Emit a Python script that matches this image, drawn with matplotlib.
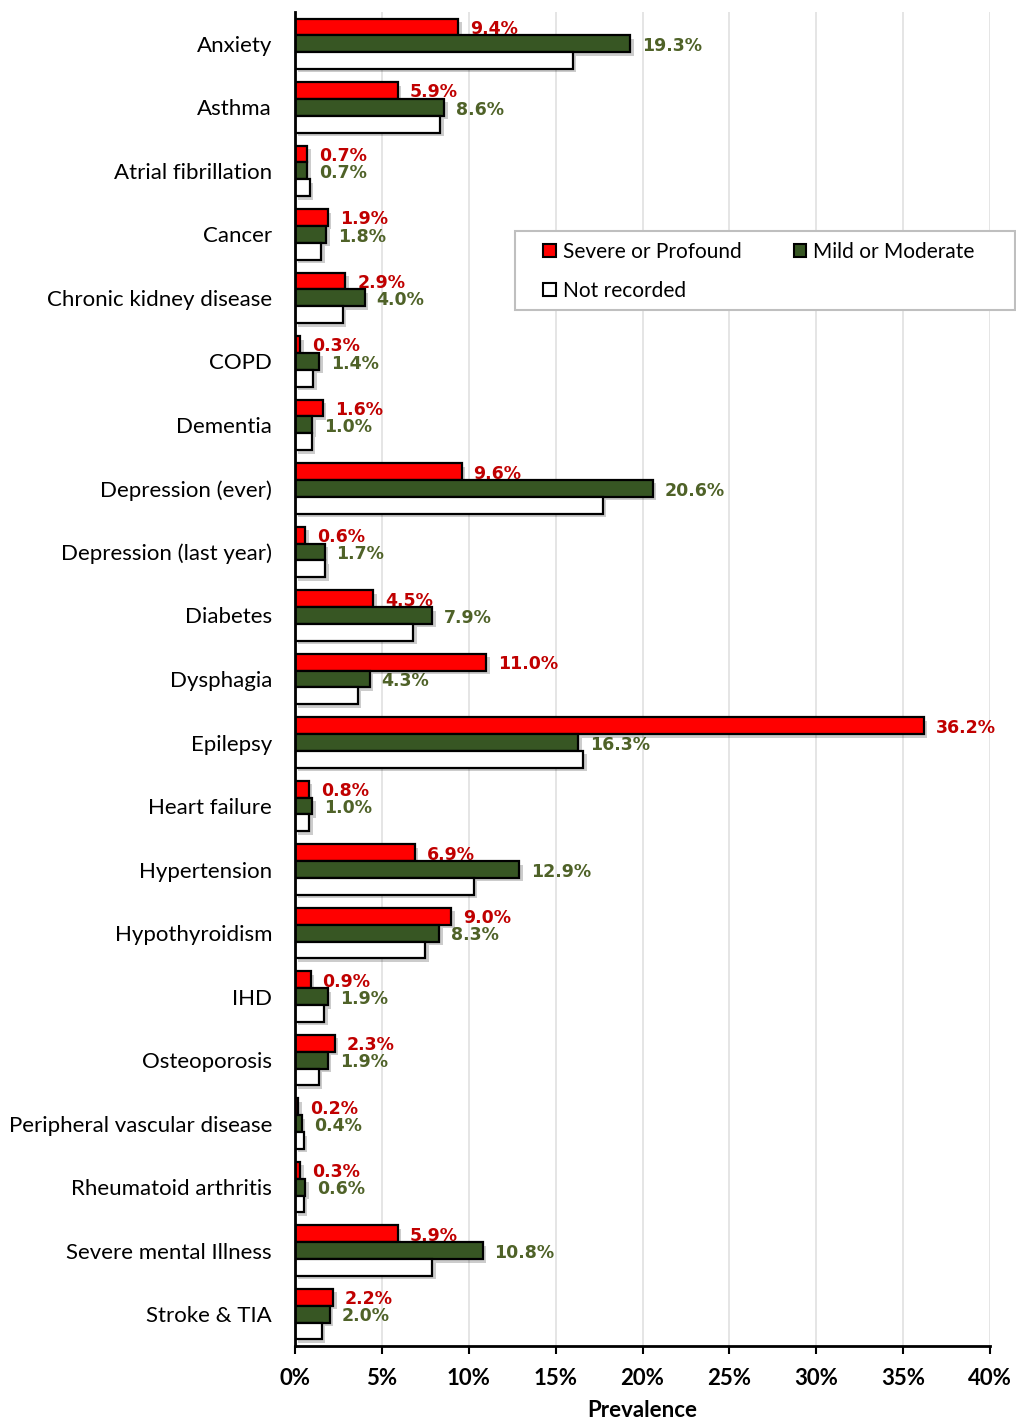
import matplotlib
matplotlib.use("Agg")
import matplotlib.pyplot as plt
import matplotlib.patheffects as pe
from matplotlib.ticker import FuncFormatter
from matplotlib.patches import Rectangle
import numpy as np

categories = ["Anxiety", "Asthma", "Atrial fibrillation", "Cancer", "Chronic kidney disease",
              "COPD", "Dementia", "Depression (ever)", "Depression (last year)", "Diabetes",
              "Dysphagia", "Epilepsy", "Heart failure", "Hypertension", "Hypothyroidism",
              "IHD", "Osteoporosis", "Peripheral vascular disease", "Rheumatoid arthritis",
              "Severe mental Illness", "Stroke & TIA"]
severe = [9.4, 5.9, 0.7, 1.9, 2.9, 0.3, 1.6, 9.6, 0.6, 4.5, 11.0, 36.2, 0.8, 6.9, 9.0,
          0.9, 2.3, 0.2, 0.3, 5.9, 2.2]
mild = [19.3, 8.6, 0.7, 1.8, 4.0, 1.4, 1.0, 20.6, 1.7, 7.9, 4.3, 16.3, 1.0, 12.9, 8.3,
        1.9, 1.9, 0.4, 0.6, 10.8, 2.0]
not_recorded = [16.0, 8.35, 0.86, 1.5, 2.76, 1.05, 0.98, 17.7, 1.73, 6.8, 3.6, 16.6, 0.81,
                10.3, 7.5, 1.69, 1.38, 0.5, 0.5, 7.9, 1.55]
series_names = ["Severe or Profound", "Mild or Moderate", "Not recorded"]
xticks = [0, 5, 10, 15, 20, 25, 30, 35, 40]

RED = "#FF0000"
GREEN = "#375623"
WHITE = "#FFFFFF"
LRED = "#C00000"
LGREEN = "#4F6228"

fig = plt.figure(figsize=(10.16, 14.21), dpi=100)
ax = fig.add_axes([295/1016, 1 - 1346/1421, 695/1016, 1334/1421])

y = np.arange(len(categories))
h = 0.265
shadow = [pe.SimplePatchShadow(offset=(2.5, -2.5), alpha=0.2, shadow_rgbFace="black"), pe.Normal()]

colors = [RED, GREEN, WHITE]
for vals, off, col, name in [(severe, -h, RED, series_names[0]),
                             (mild, 0, GREEN, series_names[1]),
                             (not_recorded, h, WHITE, series_names[2])]:
    b = ax.barh(y + off, vals, height=h, color=col, edgecolor="black", linewidth=1.6,
                zorder=3, label=name)
    for r in b:
        r.set_path_effects(shadow)

for i in range(len(categories)):
    ax.annotate(f"{severe[i]:.1f}%", (severe[i], y[i] - h + 0.03), xytext=(8.5, 0),
                textcoords="offset points", va="center", ha="left", color=LRED,
                fontsize=12.5, fontweight="bold", zorder=2.5)
    ax.annotate(f"{mild[i]:.1f}%", (mild[i], y[i] + 0.035), xytext=(8.5, 0),
                textcoords="offset points", va="center", ha="left", color=LGREEN,
                fontsize=12.5, fontweight="bold", zorder=2.5)

ax.set_xlim(0, 40)
ax.set_ylim(len(categories) - 0.5, -0.5)
ax.set_xticks(xticks)
ax.xaxis.set_major_formatter(FuncFormatter(lambda v, p: f"{v:.0f}%"))
ax.set_yticks(y)
ax.set_yticklabels(categories, fontsize=16, family="Lato")
ax.tick_params(axis="y", length=0, pad=16.5)
ax.tick_params(axis="x", length=6, width=1.5, direction="out", pad=10)
for lab in ax.get_xticklabels():
    lab.set_fontweight("bold")
    lab.set_fontsize(16)
    lab.set_family("Lato")
ax.set_xlabel("Prevalence", fontsize=16, fontweight="bold", family="Lato", labelpad=8)

ax.grid(axis="x", color="#E0E0E0", linewidth=1.2, zorder=0)
ax.set_axisbelow(True)
for s in ["top", "right"]:
    ax.spines[s].set_visible(False)
ax.spines["left"].set_linewidth(2)
ax.spines["bottom"].set_linewidth(2)
ax.spines["left"].set_zorder(4)

# legend frame
fig.patches.append(Rectangle((515/1016, 1 - 310/1421), 500/1016, 79/1421,
                             transform=fig.transFigure, facecolor="white",
                             edgecolor="#BFBFBF", linewidth=1.5, zorder=5))
handles = [plt.Rectangle((0, 0), 1, 1, facecolor=c, edgecolor="black", linewidth=1.5)
           for c in colors]
order = [0, 2, 1]
leg = fig.legend([handles[k] for k in order], [series_names[k] for k in order],
                 loc="upper left", bbox_to_anchor=(543/1016, 1 - 242/1421),
                 ncol=2, prop={"family": "Lato", "size": 15},
                 frameon=False, handlelength=0.6, handleheight=0.6,
                 handletextpad=0.35, borderpad=0, borderaxespad=0,
                 labelspacing=0.92, columnspacing=2.5)
leg.set_zorder(6)

fig.savefig("out.png", dpi=100, facecolor="white")
